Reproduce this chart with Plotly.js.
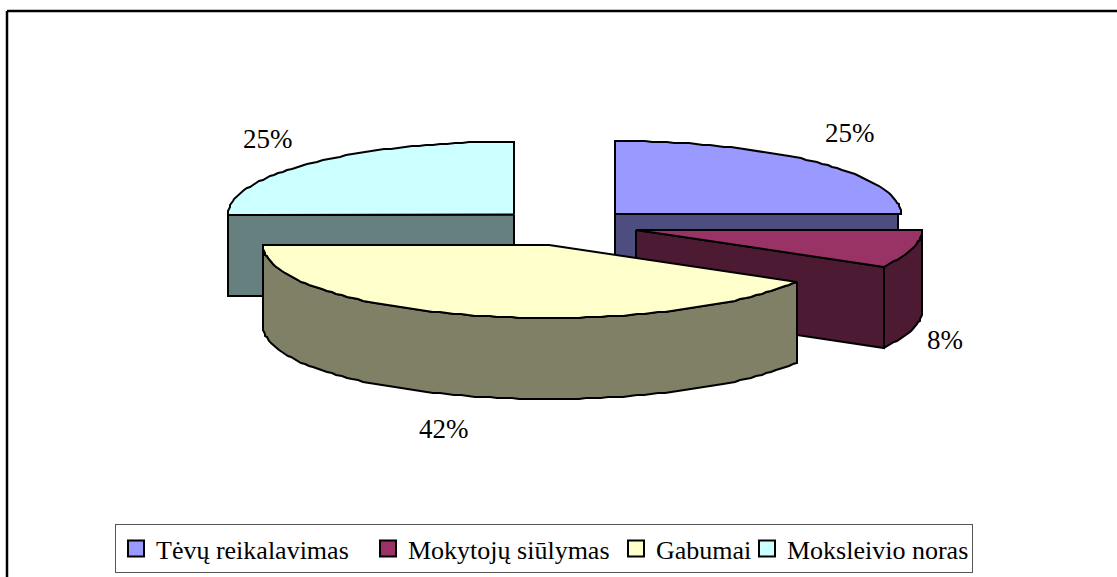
<!DOCTYPE html>
<html>
<head>
<meta charset="utf-8">
<script src="https://cdn.plot.ly/plotly-3.0.1.min.js"></script>
<style>html,body{margin:0;padding:0;background:#fff;overflow:hidden}</style>
</head>
<body>
<div id="chart" style="width:1117px;height:577px"></div>
<script>
// Data
const categories = ['Tėvų reikalavimas', 'Mokytojų siūlymas', 'Gabumai', 'Moksleivio noras'];
const counts = [3, 1, 5, 3];

// Styles
const topColors = ['#9999FF', '#993366', '#FFFFCC', '#CCFFFF'];
const sideColors = ['#4D4D80', '#4D1A33', '#808066', '#668080'];
const legendWidths = [207, 203, 86, 180];

// Layout of the exploded 3D pie
const sliceCentres = [[615, 214], [636, 230], [549, 245], [514, 214.5]];
const labelCentres = [[850, 133], [945, 340], [444, 429], [268, 139]];
const RX = 286, RY = 73, DEPTH = 81, STEP = 1.5;

const total = counts.reduce((a, b) => a + b, 0);
let running = 0;
const spans = counts.map(c => { const s = running; running += c; return [s / total * 360, running / total * 360]; });

function rimPoint(c, deg, drop) {
  const r = deg * Math.PI / 180;
  return [Math.round(c[0] + RX * Math.sin(r)), Math.round(c[1] - RY * Math.cos(r) + drop)];
}
function arc(c, a, b, drop) {
  const pts = [];
  const dir = b >= a ? 1 : -1;
  for (let d = a; dir * (d - b) < 0; d += dir * STEP) pts.push(rimPoint(c, d, drop));
  pts.push(rimPoint(c, b, drop));
  return pts;
}
function poly(pts, color, name) {
  const closed = pts.concat([pts[0]]);
  return {
    type: 'scatter', mode: 'lines', x: closed.map(p => p[0]), y: closed.map(p => p[1]),
    fill: 'toself', fillcolor: color, line: {color: '#000', width: 2, shape: 'linear'},
    hoverinfo: 'text', text: name, showlegend: false
  };
}
function topFace(i) {
  const c = sliceCentres[i];
  return poly([c].concat(arc(c, spans[i][0], spans[i][1], 0)), topColors[i], categories[i]);
}
// flat cut face hanging under a horizontal or slanted radial edge
function cutFace(i, deg, inset) {
  const c = sliceCentres[i];
  const e = rimPoint(c, deg, 0);
  const ex = e[0] + inset;
  return poly([[c[0], c[1]], [ex, e[1]], [ex, e[1] + DEPTH], [c[0], c[1] + DEPTH]], sideColors[i], categories[i]);
}
function rimFace(i, a, b) {
  const c = sliceCentres[i];
  return poly(arc(c, a, b, 0).concat(arc(c, b, a, DEPTH)), sideColors[i], categories[i]);
}

const traces = [
  cutFace(0, spans[0][1], -3), topFace(0),
  cutFace(3, spans[3][0], 0), topFace(3),
  rimFace(1, spans[1][0], spans[1][1]), cutFace(1, spans[1][1], 0), topFace(1),
  rimFace(2, spans[2][0], spans[2][1]), topFace(2)
];

categories.forEach((name, i) => traces.push({
  type: 'scatter', mode: 'markers', x: [null], y: [null], name: name,
  legendwidth: legendWidths[i],
  marker: {symbol: 'square', size: 16, color: topColors[i], line: {color: '#000', width: 2}},
  hoverinfo: 'skip', showlegend: true
}));

const FONT = '"Liberation Serif", "Times New Roman", serif';
const annotations = counts.map((c, i) => ({
  xref: 'x', yref: 'y', x: labelCentres[i][0], y: labelCentres[i][1],
  text: Math.round(c / total * 100) + '%', showarrow: false,
  xanchor: 'center', yanchor: 'middle', font: {family: FONT, size: 27, color: '#000'}
}));

const layout = {
  width: 1117, height: 577,
  margin: {l: 0, r: 0, t: 0, b: 0},
  paper_bgcolor: '#fff', plot_bgcolor: '#fff',
  xaxis: {range: [0, 1117], visible: false, fixedrange: true},
  yaxis: {range: [577, 0], visible: false, fixedrange: true},
  annotations: annotations,
  shapes: [
    {type: 'line', xref: 'x', yref: 'y', x0: 7, y0: 11, x1: 1117, y1: 11, line: {color: '#000', width: 2.5}},
    {type: 'line', xref: 'x', yref: 'y', x0: 7, y0: 11, x1: 7, y1: 577, line: {color: '#000', width: 2.5}}
  ],
  showlegend: true,
  legend: {
    orientation: 'h', xref: 'paper', yref: 'paper',
    x: 115 / 1117, xanchor: 'left', y: 1 - 524 / 577, yanchor: 'top',
    bgcolor: '#fff', bordercolor: '#555', borderwidth: 1,
    font: {family: FONT, size: 26, color: '#000'},
    traceorder: 'normal', itemclick: false, itemdoubleclick: false
  }
};

Plotly.newPlot('chart', traces, layout, {displayModeBar: false, responsive: false});
</script>
</body>
</html>
